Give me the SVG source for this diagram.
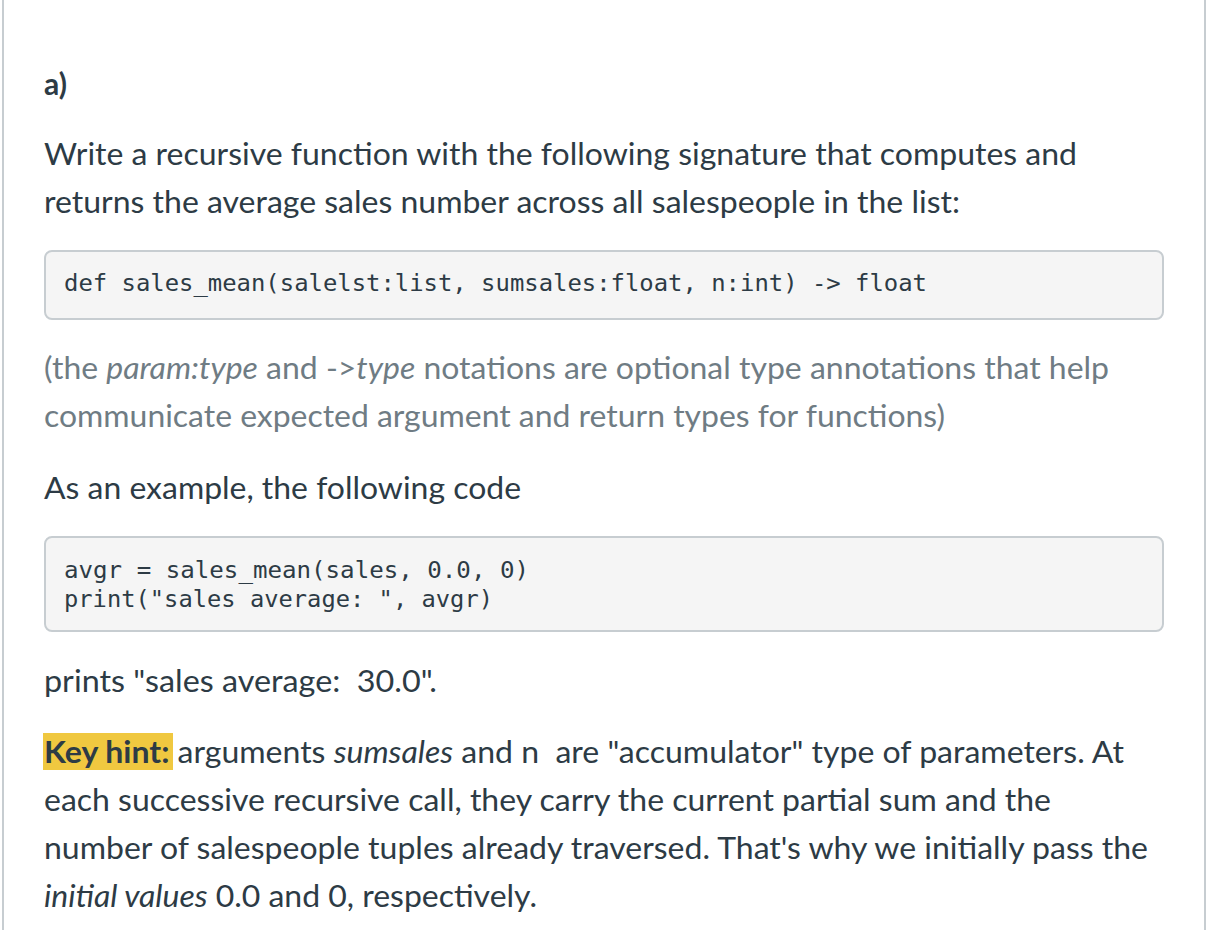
<svg xmlns="http://www.w3.org/2000/svg" width="1210" height="930" viewBox="0 0 1210 930">
<style>
.t{font-family:Lato,"Liberation Sans",sans-serif;font-size:30px;fill:#2d3b45}
.g{fill:#6f7c84}
.c{font-family:"DejaVu Sans Mono","Liberation Mono",monospace;font-size:23px;fill:#2d3b45}
.box{fill:#f5f5f5;stroke:#c7cdd1;stroke-width:2}
</style>
<rect width="1210" height="930" fill="#fff"/>
<line x1="3" y1="0" x2="3" y2="930" stroke="#c7cdd1" stroke-width="2"/>
<line x1="1205" y1="0" x2="1205" y2="930" stroke="#c7cdd1" stroke-width="2"/>
<text class="t" x="44" y="95" font-weight="bold">a)</text>
<text class="t" x="44" y="165" textLength="1033" lengthAdjust="spacingAndGlyphs">Write a recursive function with the following signature that computes and</text>
<text class="t" x="44" y="213" textLength="916" lengthAdjust="spacingAndGlyphs">returns the average sales number across all salespeople in the list:</text>
<rect class="box" x="45" y="251" width="1118" height="68" rx="7"/>
<text class="c" x="64" y="291" textLength="863" lengthAdjust="spacingAndGlyphs">def sales_mean(salelst:list, sumsales:float, n:int) -&gt; float</text>
<text class="t g" x="44" y="379" textLength="1065" lengthAdjust="spacingAndGlyphs">(the <tspan font-style="italic">param:type</tspan> and -&gt;<tspan font-style="italic">type</tspan> notations are optional type annotations that help</text>
<text class="t g" x="44" y="427" textLength="901" lengthAdjust="spacingAndGlyphs">communicate expected argument and return types for functions)</text>
<text class="t" x="44" y="499" textLength="477" lengthAdjust="spacingAndGlyphs">As an example, the following code</text>
<rect class="box" x="45" y="537" width="1118" height="94" rx="7"/>
<text class="c" x="64" y="578" textLength="465" lengthAdjust="spacingAndGlyphs">avgr = sales_mean(sales, 0.0, 0)</text>
<text class="c" x="64" y="607" textLength="429" lengthAdjust="spacingAndGlyphs">print("sales average: ", avgr)</text>
<text class="t" x="44" y="692" textLength="393" lengthAdjust="spacingAndGlyphs" xml:space="preserve">prints "sales average:  30.0".</text>
<rect x="43" y="733" width="130" height="37" fill="#f0c840"/>
<text class="t" x="44" y="763" xml:space="preserve" textLength="1080" lengthAdjust="spacingAndGlyphs"><tspan font-weight="bold">Key hint:</tspan> arguments <tspan font-style="italic">sumsales</tspan> and n  are "accumulator" type of parameters. At</text>
<text class="t" x="44" y="811" textLength="1007" lengthAdjust="spacingAndGlyphs">each successive recursive call, they carry the current partial sum and the</text>
<text class="t" x="44" y="859" textLength="1104" lengthAdjust="spacingAndGlyphs">number of salespeople tuples already traversed. That's why we initially pass the</text>
<text class="t" x="44" y="907" textLength="493" lengthAdjust="spacingAndGlyphs"><tspan font-style="italic">initial values</tspan> 0.0 and 0, respectively.</text>
</svg>
